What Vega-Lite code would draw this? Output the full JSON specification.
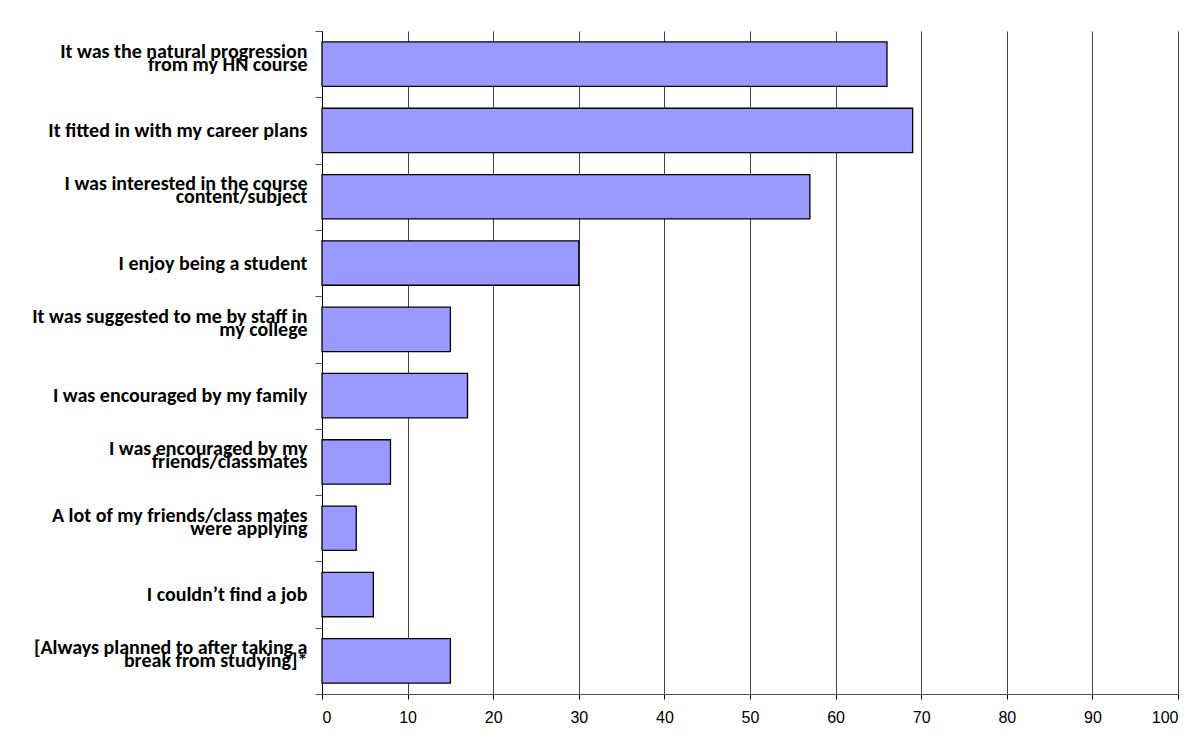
{
  "$schema": "https://vega.github.io/schema/vega-lite/v6.json",
  "autosize": {"type": "none"},
  "padding": {"left": 322, "top": 31, "right": 22, "bottom": 51},
  "width": 856,
  "height": 663,
  "background": "white",
  "config": {"view": {"stroke": null}},
  "data": {
    "values": [
      {"reason": "It was the natural progression|from my HN course", "pct": 66},
      {"reason": "It fitted in with my career plans", "pct": 69},
      {"reason": "I was interested in the course|content/subject", "pct": 57},
      {"reason": "I enjoy being a student", "pct": 30},
      {"reason": "It was suggested to me by staff in|my college", "pct": 15},
      {"reason": "I was encouraged by my family", "pct": 17},
      {"reason": "I was encouraged by my|friends/classmates", "pct": 8},
      {"reason": "A lot of my friends/class mates|were applying", "pct": 4},
      {"reason": "I couldn’t find a job", "pct": 6},
      {"reason": "[Always planned to after taking a|break from studying]*", "pct": 15}
    ]
  },
  "mark": {"type": "bar", "fill": "#9999FF", "stroke": "#000000", "strokeWidth": 1.3, "height": {"band": 0.67}},
  "encoding": {
    "y": {
      "field": "reason",
      "type": "nominal",
      "sort": null,
      "scale": {"paddingInner": 0, "paddingOuter": 0},
      "axis": {
        "title": null,
        "labelExpr": "indexof(datum.label, '|') >= 0 ? [split(datum.label, '|')[0], '', split(datum.label, '|')[1]] : ['', datum.label]",
        "labelFont": "Carlito, Lato",
        "labelFontWeight": "bold",
        "labelFontSize": 20,
        "labelLineHeight": 13,
        "labelColor": "#000000",
        "labelAlign": "right",
        "labelBaseline": "middle",
        "labelOffset": -13,
        "labelPadding": 8,
        "labelLimit": 400,
        "tickBand": "extent",
        "tickSize": 7,
        "tickColor": "#555555",
        "domainColor": "#000000",
        "domainWidth": 1,
        "grid": false
      }
    },
    "x": {
      "field": "pct",
      "type": "quantitative",
      "scale": {"domain": [0, 100], "nice": false},
      "axis": {
        "title": null,
        "values": [0, 10, 20, 30, 40, 50, 60, 70, 80, 90, 100],
        "labelFont": "Liberation Sans",
        "labelFontSize": 16,
        "labelColor": "#000000",
        "labelPadding": 10,
        "tickSize": 5,
        "tickColor": "#000000",
        "domainColor": "#555555",
        "grid": true,
        "gridColor": "#444444",
        "gridWidth": 1,
        "gridOpacity": 1
      }
    }
  }
}
